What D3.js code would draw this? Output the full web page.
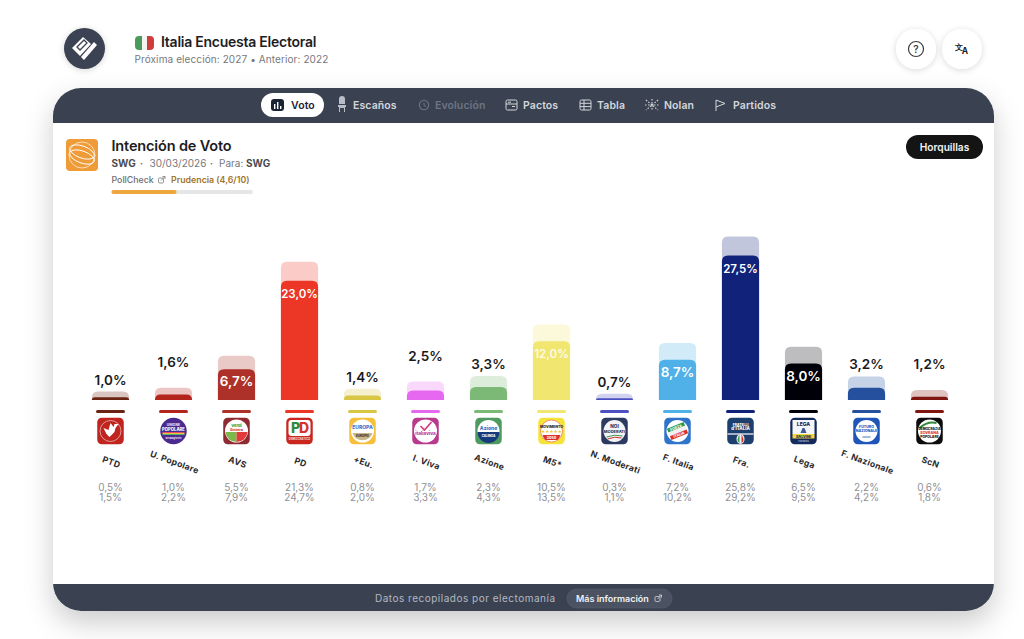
<!DOCTYPE html>
<html lang="es">
<head>
    <meta charset="UTF-8">
    <title>Italia Encuesta Electoral</title>
    <script src="https://cdn.jsdelivr.net/npm/d3@7/dist/d3.min.js"></script>
</head>
<style>
    html, body { margin: 0; padding: 0; background: #fff; overflow: hidden; }
    svg { display: block; font-family: Inter, "Noto Sans", sans-serif; }
</style>
<body>
</body>
</html>
<script>
    var parties = ["PTD", "U. Popolare", "AVS", "PD", "+Eu.", "I. Viva", "Azione", "M5*", "N. Moderati", "F. Italia", "Fra.", "Lega", "F. Nazionale", "ScN"];
    var votes = [1.0, 1.6, 6.7, 23.0, 1.4, 2.5, 3.3, 12.0, 0.7, 8.7, 27.5, 8.0, 3.2, 1.2];
    var lows = [0.5, 1.0, 5.5, 21.3, 0.8, 1.7, 2.3, 10.5, 0.3, 7.2, 25.8, 6.5, 2.2, 0.6];
    var highs = [1.5, 2.2, 7.9, 24.7, 2.0, 3.3, 4.3, 13.5, 1.1, 10.2, 29.2, 9.5, 4.2, 1.8];
    var colors = ["#6b2414", "#b3241c", "#ad3128", "#ec3626", "#d9c643", "#e768f0", "#7cb876", "#f0e670", "#4c50c2", "#50b0e8", "#10227a", "#000008", "#24509e", "#7f1710"];
    var raised = ["U. Popolare", "I. Viva", "ScN"];       // etiquetas que suben un nivel
    var tabs = ["Voto", "Escaños", "Evolución", "Pactos", "Tabla", "Nolan", "Partidos"];
    var tabX = [291, 353, 435, 523, 597, 664, 733];

    var w = 1024, h = 639;
    var dark = "#3a4252";
    var comma = function (v) { return d3.format(".1f")(v).replace(".", ",") + "%"; };

    var svg = d3.select("body").append("svg").attr("width", w).attr("height", h);
    var defs = svg.append("defs");

    var shadow = defs.append("filter").attr("id", "cardShadow")
            .attr("x", "-10%").attr("y", "-10%").attr("width", "120%").attr("height", "125%");
    shadow.append("feDropShadow").attr("dx", 0).attr("dy", 12).attr("stdDeviation", 14)
            .attr("flood-color", "#000").attr("flood-opacity", 0.2);
    var btnShadow = defs.append("filter").attr("id", "btnShadow")
            .attr("x", "-40%").attr("y", "-40%").attr("width", "180%").attr("height", "180%");
    btnShadow.append("feDropShadow").attr("dx", 0).attr("dy", 1).attr("stdDeviation", 3)
            .attr("flood-color", "#000").attr("flood-opacity", 0.16);
    defs.append("clipPath").attr("id", "cardClip").append("rect")
            .attr("x", 53).attr("y", 88).attr("width", 941).attr("height", 523).attr("rx", 28);

    function label(g, x, y, txt, size, weight, fill, anchor, spacing) {
        return g.append("text").attr("x", x).attr("y", y).text(txt)
                .attr("font-size", size + "px").attr("font-weight", weight).attr("fill", fill)
                .attr("text-anchor", anchor || "start").attr("letter-spacing", spacing || 0);
    }
    function extIcon(g, px, py, col) {
        g.append("rect").attr("x", px).attr("y", py + 1).attr("width", 5).attr("height", 5).attr("rx", 1.2)
                .attr("fill", "none").attr("stroke", col).attr("stroke-width", 0.8);
        g.append("path").attr("d", "M" + (px + 2.5) + "," + (py + 3.5) + "L" + (px + 6.5) + "," + (py - 0.5) + "M" + (px + 4) + "," + (py - 0.5) + "H" + (px + 6.5) + "V" + (py + 2))
                .attr("fill", "none").attr("stroke", col).attr("stroke-width", 0.8);
    }

    // cabecera
    var head = svg.append("g");
    head.append("circle").attr("cx", 84.5).attr("cy", 48.5).attr("r", 20.5).attr("fill", dark).attr("filter", "url(#btnShadow)");
    head.append("path").attr("d", "M72,48 L83,37 L91,44 L80,56 Z M81,57 L94,42 L97,45 L84,60 Z").attr("fill", "#fff");
    head.append("path").attr("d", "M77,47 L84,40 L87,43 L80,50 Z").attr("fill", "none").attr("stroke", dark).attr("stroke-width", 1.3);

    defs.append("clipPath").attr("id", "flagClip").append("rect")
            .attr("x", 135).attr("y", 36).attr("width", 19).attr("height", 14).attr("rx", 4);
    var flag = head.append("g").attr("clip-path", "url(#flagClip)");
    flag.append("rect").attr("x", 135).attr("y", 36).attr("width", 7).attr("height", 14).attr("fill", "#4a9a5a");
    flag.append("rect").attr("x", 142).attr("y", 36).attr("width", 5).attr("height", 14).attr("fill", "#f4f4f4");
    flag.append("rect").attr("x", 147).attr("y", 36).attr("width", 7).attr("height", 14).attr("fill", "#d03c3c");

    label(head, 161, 47, "Italia Encuesta Electoral", 14, 600, "#1d1d1f", "start", -0.25);
    label(head, 134.5, 62.5, "Próxima elección: 2027 • Anterior: 2022", 10, 400, "#77787c", "start", 0.1);

    [916, 962].forEach(function (cx) {
        head.append("circle").attr("cx", cx).attr("cy", 49).attr("r", 20).attr("fill", "#fff").attr("filter", "url(#btnShadow)");
    });
    head.append("circle").attr("cx", 916).attr("cy", 49).attr("r", 7.5).attr("fill", "none").attr("stroke", "#3c3c3c").attr("stroke-width", 1.2);
    label(head, 916, 52.5, "?", 10, 600, "#3c3c3c", "middle");
    label(head, 959, 50, "文", 8, 700, "#222", "middle");
    label(head, 965, 54, "A", 8.5, 700, "#222", "middle");

    // tarjeta
    svg.append("rect").attr("x", 53).attr("y", 88).attr("width", 941).attr("height", 523).attr("rx", 28)
            .attr("fill", "#fff").attr("filter", "url(#cardShadow)");
    var card = svg.append("g").attr("clip-path", "url(#cardClip)");
    card.append("rect").attr("x", 53).attr("y", 88).attr("width", 941).attr("height", 35).attr("fill", dark);
    card.append("rect").attr("x", 53).attr("y", 584).attr("width", 941).attr("height", 27).attr("fill", dark);

    // pestañas
    var nav = svg.append("g");
    nav.append("rect").attr("x", 261).attr("y", 93).attr("width", 63).attr("height", 24).attr("rx", 12).attr("fill", "#fff");
    tabs.forEach(function (t, i) {
        var col = i === 0 ? "#1b2233" : (t === "Evolución" ? "#6d7482" : "#d3d6db");
        label(nav, tabX[i], 108.5, t, 10.5, 600, col, "start", 0.1);
    });
    nav.append("rect").attr("x", 271).attr("y", 99).attr("width", 13).attr("height", 12).attr("rx", 3).attr("fill", "#1b2233");
    [[274, 3], [277, 1], [280, 5]].forEach(function (b) {
        nav.append("rect").attr("x", b[0]).attr("y", 101 + b[1]).attr("width", 1.4).attr("height", 8 - b[1]).attr("fill", "#fff");
    });
    // escaños
    nav.append("path").attr("d", "M339 99 a3 3 0 0 1 6 0 v5 h-6 Z M338 105 h8 v2 h-1 v5 h-1 v-4 h-4 v4 h-1 v-5 h-1 Z").attr("fill", "#b9bdc5");
    // evolución
    nav.append("circle").attr("cx", 424).attr("cy", 105).attr("r", 4.7).attr("fill", "none").attr("stroke", "#6d7482").attr("stroke-width", 1.1);
    nav.append("path").attr("d", "M424 102.5 V105.3 L426 106.5").attr("fill", "none").attr("stroke", "#6d7482");
    // pactos
    nav.append("rect").attr("x", 506).attr("y", 100).attr("width", 11).attr("height", 10).attr("rx", 1.5).attr("fill", "none").attr("stroke", "#d3d6db");
    nav.append("path").attr("d", "M506 104 H517 M508 102.2 H511 M512 106.5 H515").attr("stroke", "#d3d6db").attr("fill", "none");
    // tabla
    nav.append("rect").attr("x", 580).attr("y", 100).attr("width", 11).attr("height", 10).attr("rx", 1.5).attr("fill", "none").attr("stroke", "#d3d6db");
    nav.append("path").attr("d", "M580 103.3 H591 M580 106.6 H591 M584 100 V110").attr("stroke", "#d3d6db").attr("fill", "none");
    // nolan
    nav.append("path").attr("d", "M646 100 L658 110 M658 100 L646 110 M652 99 V111 M645 105 H659").attr("stroke", "#d3d6db").attr("stroke-width", 1.2).attr("stroke-dasharray", "1.5 1.5").attr("fill", "none");
    // partidos
    nav.append("path").attr("d", "M716 100 V111 M716 100 L725 103.5 L716 107").attr("stroke", "#d3d6db").attr("fill", "none");

    // encuestadora
    var poll = svg.append("g");
    poll.append("rect").attr("x", 66).attr("y", 139).attr("width", 32).attr("height", 32).attr("rx", 4).attr("fill", "#ef9b38");
    poll.append("ellipse").attr("cx", 82).attr("cy", 155).attr("rx", 13).attr("ry", 13).attr("fill", "none").attr("stroke", "#fbe3c2").attr("stroke-width", 0.9);
    poll.append("ellipse").attr("cx", 82).attr("cy", 152).attr("rx", 13).attr("ry", 6).attr("transform", "rotate(20 82 152)").attr("fill", "none").attr("stroke", "#fff").attr("stroke-width", 0.9);
    poll.append("ellipse").attr("cx", 82).attr("cy", 157).attr("rx", 13).attr("ry", 6).attr("transform", "rotate(20 82 157)").attr("fill", "none").attr("stroke", "#fff").attr("stroke-width", 0.9);

    label(poll, 111.5, 150.5, "Intención de Voto", 14.5, 600, "#1d1d1f", "start", -0.15);
    label(poll, 111.5, 167, "SWG", 10, 700, "#4a4b50");
    label(poll, 141.5, 167, "·", 10, 700, "#77787c", "middle");
    label(poll, 149.5, 167, "30/03/2026", 10, 400, "#77787c");
    label(poll, 211.5, 167, "·", 10, 700, "#77787c", "middle");
    label(poll, 219, 167, "Para:", 10, 400, "#77787c");
    label(poll, 246, 167, "SWG", 10, 700, "#4a4b50");
    label(poll, 111.5, 183, "PollCheck", 8.8, 500, "#6e6f74");
    extIcon(poll, 158.5, 177, "#77787c");
    label(poll, 171, 183, "Prudencia (4,6/10)", 8.8, 600, "#a3752c");
    poll.append("rect").attr("x", 111.5).attr("y", 190).attr("width", 141.5).attr("height", 4).attr("rx", 2).attr("fill", "#e6e6e6");
    poll.append("rect").attr("x", 111.5).attr("y", 190).attr("width", 65).attr("height", 4).attr("rx", 2).attr("fill", "#efa63d");

    poll.append("rect").attr("x", 906).attr("y", 135).attr("width", 77).attr("height", 24).attr("rx", 12).attr("fill", "#141414");
    label(poll, 944.5, 150.5, "Horquillas", 10.2, 600, "#f2f2f2", "middle");

    // barras
    var x = d3.scaleBand().domain(parties).range([79, 961]).paddingInner(0.41).paddingOuter(0.205);
    var y = d3.scaleLinear().domain([0, 30]).range([400, 232]);
    var bw = x.bandwidth();

    function topRounded(px, py, bh, r) {
        r = Math.min(r, bh);
        return "M" + px + "," + (py + bh) + "V" + (py + r) + "Q" + px + "," + py + " " + (px + r) + "," + py +
                "H" + (px + bw - r) + "Q" + (px + bw) + "," + py + " " + (px + bw) + "," + (py + r) + "V" + (py + bh) + "Z";
    }

    var rows = parties.map(function (p, i) {
        return {name: p, vote: votes[i], low: lows[i], high: highs[i], color: colors[i], idx: i};
    });

    var plot = svg.append("g");
    plot.selectAll("path.high").data(rows).enter().append("path").attr("class", "high")
            .attr("d", function (d) { return topRounded(x(d.name), y(d.high), y(0) - y(d.high), 6); })
            .attr("fill", function (d) { return d.color; })
            .attr("fill-opacity", 0.26);
    plot.selectAll("path.low").data(rows).enter().append("path").attr("class", "low")
            .attr("d", function (d) { return topRounded(x(d.name), y(d.low), y(0) - y(d.low), 6); })
            .attr("fill", function (d) { return d.color; });

    function isInside(d) { return d.vote >= 5; }
    plot.selectAll("text.val").data(rows).enter().append("text").attr("class", "val")
            .text(function (d) { return comma(d.vote); })
            .attr("x", function (d) { return x(d.name) + bw / 2; })
            .attr("y", function (d) {
                if (isInside(d)) return y(d.low) + 17;
                var up = raised.indexOf(d.name) >= 0 ? 21 : 7;
                return y(d.high) - up;
            })
            .attr("text-anchor", "middle")
            .attr("font-size", function (d) { return d.vote >= 10 ? "11.5px" : "13.5px"; })
            .attr("font-weight", 600)
            .attr("fill", function (d) { return isInside(d) ? "#fff" : "#1a1a1c"; })
            .attr("fill-opacity", function (d) { return d.name === "M5*" ? 0.85 : 1; });

    plot.selectAll("rect.dash").data(rows).enter().append("rect").attr("class", "dash")
            .attr("x", function (d) { return x(d.name) + bw / 2 - 14.5; })
            .attr("y", 410).attr("width", 29).attr("height", 3).attr("rx", 1.5)
            .attr("fill", function (d) { return d.color; });

    // logos de partidos
    var logoBg = ["#c0241f", "#4a2a8e", "#8e2a30", "#c8261f", "#f6c03c", "#b83a8c", "#4f9a5e", "#f6e33a", "#2c3a62", "#2f74c8", "#1c3f6e", "#14295c", "#1f54b8", "#0c0c0c"];

    function disc(g, r, fill, cy) {
        return g.append("circle").attr("cy", cy || 0).attr("r", r).attr("fill", fill);
    }
    function tiny(g, ty, txt, size, fill) {
        return g.append("text").attr("y", ty).text(txt).attr("text-anchor", "middle")
                .attr("font-size", size + "px").attr("font-weight", 800).attr("fill", fill);
    }
    function box(g, bx, by, bwid, bh, fill) {
        return g.append("rect").attr("x", bx).attr("y", by).attr("width", bwid).attr("height", bh).attr("fill", fill);
    }

    var logoDraw = {
        "PTD": function (g) {
            g.append("circle").attr("r", 10.5).attr("fill", "none").attr("stroke", "#f2c9c5").attr("stroke-width", 0.7);
            g.append("path").attr("d", "M-7,-3 L-2,-1 L0,-8 L3,-4 L4,-7 L8,-7 L5,-3 L4,1 L-1,6 L-4,3 Z").attr("fill", "#fff");
        },
        "U. Popolare": function (g) {
            tiny(g, -5, "UNIONE", 3.4, "#e8d8f5");
            tiny(g, -0.5, "POPOLARE", 4.2, "#fff");
            box(g, -11, 1, 22, 1, "#e84a6a"); box(g, -11, 2, 22, 1, "#f2c23c"); box(g, -11, 3, 22, 1, "#4ab868");
            tiny(g, 8, "de Magistris", 2.6, "#e8d8f5");
        },
        "AVS": function (g) {
            disc(g, 11.5, "#fff");
            g.append("path").attr("d", "M-11,1 H0 V11 A11,11 0 0 1 -11,1 Z").attr("fill", "#7cb84a");
            g.append("path").attr("d", "M11,1 H0 V11 A11,11 0 0 0 11,1 Z").attr("fill", "#e23a3a");
            tiny(g, -4, "Verdi", 4, "#3a9a3c");
            tiny(g, -0.5, "Sinistra", 3.4, "#d8322c");
        },
        "PD": function (g) {
            g.append("rect").attr("x", -11).attr("y", -11).attr("width", 22).attr("height", 16).attr("rx", 3).attr("fill", "#fff");
            g.append("text").attr("x", -4).attr("y", 2).text("P").attr("text-anchor", "middle").attr("font-size", "14px").attr("font-weight", 800).attr("fill", "#2f8a3c");
            g.append("text").attr("x", 4.5).attr("y", 2).text("D").attr("text-anchor", "middle").attr("font-size", "14px").attr("font-weight", 800).attr("fill", "#d8322c");
            tiny(g, 9, "DEMOCRATICO", 2.8, "#f6d0cc");
        },
        "+Eu.": function (g) {
            disc(g, 11.5, "#fff");
            tiny(g, -2, "EUROPA", 5, "#4a70c8");
            g.append("path").attr("d", "M-10,2 H10 A10.5,10.5 0 0 1 -10,2 Z").attr("fill", "#c9b98a");
            tiny(g, 6, "EUROPEI", 3, "#333");
        },
        "I. Viva": function (g) {
            disc(g, 11.5, "#fff");
            g.append("path").attr("d", "M-5,-5 L-1,-1 L6,-9").attr("fill", "none").attr("stroke", "#d8367c").attr("stroke-width", 1.6);
            tiny(g, 4, "italiaviva", 4.6, "#b83a9c");
        },
        "Azione": function (g) {
            disc(g, 11, "#fff");
            g.append("path").attr("d", "M-11,1 H11 A11,11 0 0 1 -11,1 Z").attr("fill", "#173a7c");
            tiny(g, -1.5, "Azione", 5, "#2f74c8");
            tiny(g, 6, "CALENDA", 2.8, "#fff");
        },
        "M5*": function (g) {
            disc(g, 11, "#fff").attr("stroke", "#e8785a").attr("stroke-width", 0.8);
            tiny(g, -3.5, "MOVIMENTO", 3.6, "#222");
            tiny(g, 1.5, "★★★★★", 4, "#f0c420");
            g.append("path").attr("d", "M-9,4 H9 A11,11 0 0 1 6,9 H-6 A11,11 0 0 1 -9,4 Z").attr("fill", "#d8322c");
            tiny(g, 8, "2050", 3.6, "#fff");
        },
        "N. Moderati": function (g) {
            disc(g, 11, "#f2f3f6");
            tiny(g, -3, "NOI", 4.6, "#2c3a62");
            tiny(g, 2, "MODERATI", 4, "#2c3a62");
            g.append("path").attr("d", "M-8,6 Q0,3 8,5").attr("fill", "none").attr("stroke", "#3a9a50").attr("stroke-width", 1);
            g.append("path").attr("d", "M-7,8 Q0,5 7,7").attr("fill", "none").attr("stroke", "#d8322c").attr("stroke-width", 1);
        },
        "F. Italia": function (g) {
            disc(g, 11, "#fff");
            g.append("g").attr("transform", "rotate(-22)").call(function (s) {
                box(s, -9, -6, 18, 4, "#2f9a4c");
                box(s, -9, -2, 18, 4, "#f2f2f2");
                box(s, -9, 2, 18, 4, "#d8322c");
                tiny(s, -2.5, "FORZA", 3.6, "#fff");
                tiny(s, 5.2, "ITALIA", 3.6, "#fff");
            });
        },
        "Fra.": function (g) {
            tiny(g, -5.5, "FRATELLI", 3.4, "#fff");
            tiny(g, -1, "d'ITALIA", 4.4, "#fff");
            g.append("path").attr("d", "M-13,2 H13 V4 H-13 Z").attr("fill", "#fff").attr("fill-opacity", 0.6);
            g.append("ellipse").attr("cy", 8).attr("rx", 4).attr("ry", 5).attr("fill", "#f2f2f2");
            g.append("path").attr("d", "M-3,9 Q-2,5 -1,3 V12 Q-3,11 -3,9 Z").attr("fill", "#3a9a50");
            g.append("path").attr("d", "M3,9 Q2,5 1,3 V12 Q3,11 3,9 Z").attr("fill", "#d8322c");
        },
        "Lega": function (g) {
            g.append("path").attr("d", "M-11,-11 H11 V3 H-11 Z").attr("fill", "#f4f6fa");
            tiny(g, -5, "LEGA", 5, "#14295c");
            g.append("path").attr("d", "M-1,-3 L1,-3 L3,2 L-3,2 Z").attr("fill", "#3d5a98");
            box(g, -11, 3, 22, 4.5, "#f2d83a");
            tiny(g, 6.7, "SALVINI", 3.8, "#14295c");
            tiny(g, 10.8, "PREMIER", 2.4, "#8fa0c8");
        },
        "F. Nazionale": function (g) {
            disc(g, 11, "#fff");
            tiny(g, -3, "FUTURO", 3.6, "#1f54b8");
            tiny(g, 1, "NAZIONALE", 3.6, "#1f54b8");
            g.append("path").attr("d", "M-4,6 H4").attr("stroke", "#1f54b8").attr("stroke-width", 0.8);
        },
        "ScN": function (g) {
            disc(g, 11.5, "#fff");
            g.append("path").attr("d", "M-10,-3 Q-2,-10 7,-8").attr("fill", "none").attr("stroke", "#2f8a3c").attr("stroke-width", 2);
            tiny(g, -1, "DEMOCRAZIA", 3.2, "#111");
            tiny(g, 3, "SOVRANA", 3.6, "#d8322c");
            tiny(g, 7, "POPOLARE", 3.4, "#111");
        }
    };

    var logos = plot.selectAll("g.logo").data(rows).enter().append("g").attr("class", "logo")
            .attr("transform", function (d) { return "translate(" + (x(d.name) + bw / 2) + ",431)"; });
    logos.append("rect").attr("x", -13.25).attr("y", -13.25).attr("width", 26.5).attr("height", 26.5)
            .attr("rx", function (d) { return d.name === "U. Popolare" ? 13.25 : 4.5; })
            .attr("fill", function (d) { return logoBg[d.idx]; });
    logos.each(function (d) { logoDraw[d.name](d3.select(this)); });

    // nombres y horquillas
    plot.selectAll("text.name").data(rows).enter().append("text").attr("class", "name")
            .text(function (d) { return d.name; })
            .attr("transform", function (d) { return "translate(" + (x(d.name) + bw / 2) + ",465) rotate(20)"; })
            .attr("text-anchor", "middle")
            .attr("font-size", "8.6px").attr("font-weight", 700).attr("letter-spacing", 0.3).attr("fill", "#2a2a2c");

    plot.selectAll("text.lo").data(rows).enter().append("text").attr("class", "lo")
            .text(function (d) { return comma(d.low); })
            .attr("x", function (d) { return x(d.name) + bw / 2; }).attr("y", 490.5)
            .attr("text-anchor", "middle").attr("font-size", "10px").attr("fill", "#909094");
    plot.selectAll("text.hi").data(rows).enter().append("text").attr("class", "hi")
            .text(function (d) { return comma(d.high); })
            .attr("x", function (d) { return x(d.name) + bw / 2; }).attr("y", 500.5)
            .attr("text-anchor", "middle").attr("font-size", "10px").attr("fill", "#909094");

    // pie
    var foot = svg.append("g");
    label(foot, 375, 601.5, "Datos recopilados por electomanía", 10, 400, "#b4b8c0", "start", 0.5);
    foot.append("rect").attr("x", 567).attr("y", 589).attr("width", 105).attr("height", 19).attr("rx", 9.5).attr("fill", "#4b5261").attr("stroke", "#585f6e").attr("stroke-width", 0.6);
    label(foot, 576, 601.5, "Más información", 9, 600, "#f0f1f3");
    extIcon(foot, 655, 595.5, "#d8dade");
</script>
